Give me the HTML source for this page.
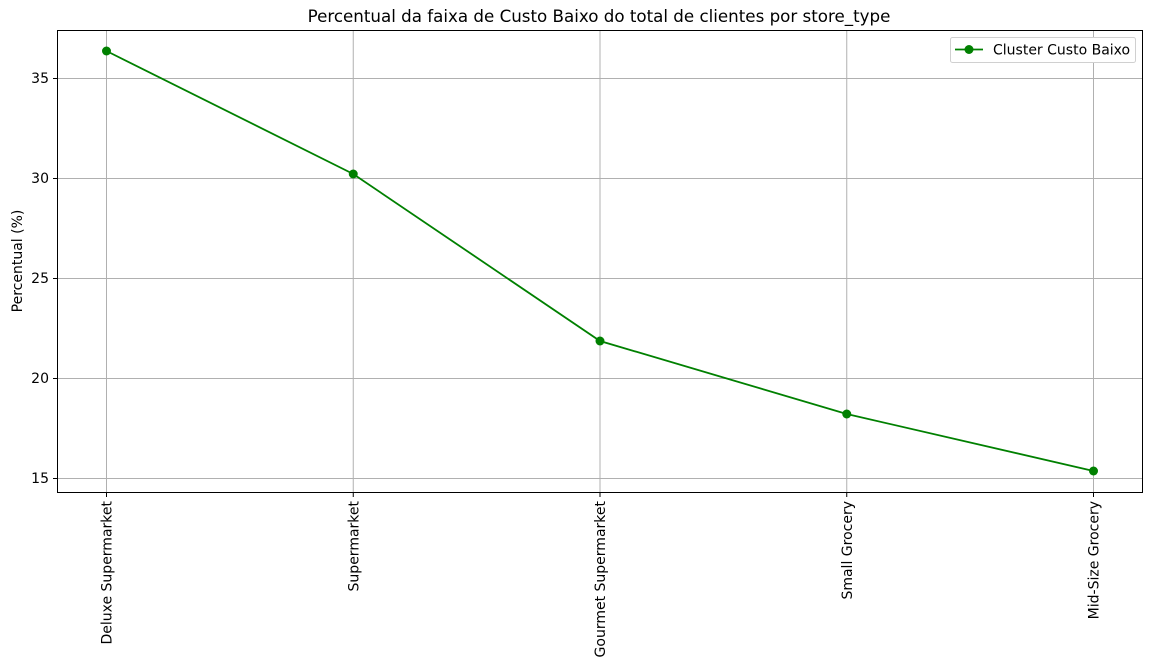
<!DOCTYPE html>
<html><head><meta charset="utf-8"><style>
body{margin:0;background:#fff;}
svg text{font-family:"DejaVu Sans","Liberation Sans",sans-serif;fill:#000;}
</style></head><body>
<svg id="chart" width="1152" height="667" xmlns="http://www.w3.org/2000/svg">
<rect width="1152" height="667" fill="#fff"/>
<g id="grid"></g>
<g id="ticks"></g>
<g id="series"></g>
<rect x="57.5" y="30.5" width="1085" height="462" fill="none" stroke="#000" stroke-width="1"/>
<text x="599" y="22" font-size="16.7" text-anchor="middle">Percentual da faixa de Custo Baixo do total de clientes por store_type</text>
<text x="22" y="261" font-size="14" text-anchor="middle" transform="rotate(-90 22 261)">Percentual (%)</text>
<g>
<rect x="950.5" y="37.5" width="185" height="25" rx="2" fill="#fff" stroke="#d0d0d0"/>
<line x1="955" y1="49.5" x2="983" y2="49.5" stroke="#008000" stroke-width="1.8"/>
<circle cx="969" cy="49.5" r="4.5" fill="#008000"/>
<text x="993" y="54.5" font-size="14">Cluster Custo Baixo</text>
</g>
</svg>
<script>
const categories=["Deluxe Supermarket","Supermarket","Gourmet Supermarket","Small Grocery","Mid-Size Grocery"];
const values=[36.35,30.2,21.85,18.2,15.35];
const yTicks=[15,20,25,30,35];
const NS="http://www.w3.org/2000/svg";
const x=i=>106+i*246.75;
const y=v=>478-(v-15)*20;
const grid=document.getElementById('grid'),ticks=document.getElementById('ticks'),ser=document.getElementById('series');
function mk(tag,attrs,parent){const e=document.createElementNS(NS,tag);for(const k in attrs)e.setAttribute(k,attrs[k]);parent.appendChild(e);return e;}
yTicks.forEach(t=>{
 const g=mk('line',{x1:57.5,x2:1142.5,y1:y(t)+0.5,y2:y(t)+0.5,stroke:'#b0b0b0','stroke-width':1},grid);
 
 
 const tk=mk('line',{x1:53,x2:57.5,y1:y(t)+0.5,y2:y(t)+0.5,stroke:'#000'},ticks);
 
 
 const tx=mk('text',{x:49,y:y(t)+5,'font-size':14,'text-anchor':'end'},ticks);
 tx.textContent=t;
 
 
});
categories.forEach((c,i)=>{
 const g=mk('line',{x1:x(i)+0.5,x2:x(i)+0.5,y1:30.5,y2:492.5,stroke:'#b0b0b0','stroke-width':1},grid);
 
 
 const tk=mk('line',{x1:x(i)+0.5,x2:x(i)+0.5,y1:492.5,y2:497,stroke:'#000'},ticks);
 
 
 const tx=mk('text',{x:x(i)+5.5,y:501,'font-size':14,'text-anchor':'end',transform:`rotate(-90 ${x(i)+5.5} 501)`},ticks);
 tx.textContent=c;
 
 
});
const pts=values.map((v,i)=>x(i)+0.5+','+y(v)).join(' ');
const pl=mk('polyline',{points:pts,fill:'none',stroke:'#008000','stroke-width':1.8},ser);


values.forEach((v,i)=>{
 const c=mk('circle',{cx:x(i)+0.5,cy:y(v),r:4.5,fill:'#008000'},ser);
 
 
});
</script>
</body></html>
